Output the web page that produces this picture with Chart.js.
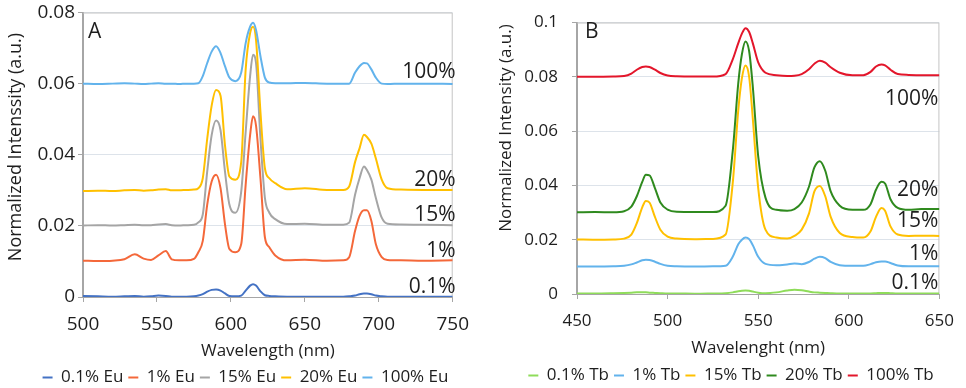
<!DOCTYPE html>
<html>
<head>
<meta charset="utf-8">
<script src="https://cdn.jsdelivr.net/npm/chart.js@4.4.1/dist/chart.umd.min.js"></script>
<style>
  html, body { margin: 0; padding: 0; background: #fff; overflow: hidden; }
  #wrap { display: flex; align-items: flex-start; width: 966px; height: 388px; overflow: hidden; }
  #boxEu { position: relative; width: 480px; height: 396px; flex: none; }
  #boxTb { position: relative; width: 486px; height: 394px; flex: none; }
</style>
</head>
<body>
<div id="wrap">
  <div id="boxEu"><canvas id="chartEu"></canvas></div>
  <div id="boxTb"><canvas id="chartTb"></canvas></div>
</div>
<script>
/* ==================== DATA : panel A (Eu) ==================== */
const euWavelength = [500, 510, 520, 528, 535, 541, 546, 551, 556, 560,
  565, 570, 575, 578, 581, 584, 587, 590, 593, 596,
  599, 603, 607, 610, 613, 615, 617, 620, 623, 626,
  630, 638, 650, 665, 676, 680, 684, 687, 690, 692,
  695, 698, 702, 706, 715, 730, 750];
const eu01 = [0.0003, 0.0002, 0.0001, 0.0002, 0.0003, 0.0001, 0.0002, 0.0004, 0.0003, 0.0001,
  0.0001, 0.0001, 0.0002, 0.0004, 0.0008, 0.0015, 0.002, 0.0021, 0.0018, 0.001,
  0.0003, 0.0002, 0.0004, 0.0018, 0.0032, 0.0036, 0.0032, 0.0016, 0.0005, 0.0003,
  0.0002, 0.0001, 0.0001, 0.0001, 0.0001, 0.0002, 0.0004, 0.0008, 0.001, 0.001,
  0.0008, 0.0004, 0.0002, 0.0001, 0.0001, 0.0001, 0.0001];
const eu1 = [0.0102, 0.0101, 0.0102, 0.0106, 0.012, 0.0108, 0.0104, 0.0117, 0.0129, 0.0106,
  0.0103, 0.0103, 0.0107, 0.0126, 0.0158, 0.026, 0.0325, 0.0344, 0.0306, 0.0205,
  0.0135, 0.0126, 0.0149, 0.0316, 0.0455, 0.0508, 0.0482, 0.0334, 0.0168, 0.014,
  0.0117, 0.0103, 0.0105, 0.0102, 0.0103, 0.0112, 0.0186, 0.0228, 0.0244, 0.0244,
  0.0214, 0.0149, 0.0112, 0.0104, 0.0103, 0.0102, 0.0103];
const eu15 = [0.0201, 0.0202, 0.0201, 0.0202, 0.0203, 0.0202, 0.0202, 0.0204, 0.0205, 0.0202,
  0.0201, 0.0202, 0.0203, 0.021, 0.0232, 0.0353, 0.0455, 0.0496, 0.0469, 0.0353,
  0.026, 0.0237, 0.0297, 0.0464, 0.0621, 0.0681, 0.0658, 0.0445, 0.0279, 0.0237,
  0.0219, 0.0205, 0.0206, 0.0203, 0.0203, 0.0209, 0.0288, 0.0334, 0.0367, 0.0357,
  0.033, 0.0279, 0.0223, 0.0206, 0.0204, 0.0203, 0.0202];
const eu20 = [0.0298, 0.0299, 0.0298, 0.03, 0.0301, 0.0299, 0.03, 0.0302, 0.0303, 0.03,
  0.03, 0.0301, 0.0302, 0.0306, 0.0334, 0.0445, 0.0538, 0.0582, 0.0566, 0.0427,
  0.0339, 0.033, 0.038, 0.064, 0.0742, 0.076, 0.0723, 0.052, 0.0362, 0.0334,
  0.032, 0.0303, 0.0306, 0.0301, 0.0301, 0.0311, 0.038, 0.0418, 0.0456, 0.045,
  0.0431, 0.039, 0.033, 0.0306, 0.0302, 0.0301, 0.0301];
const eu100 = [0.06, 0.0599, 0.06, 0.0601, 0.06, 0.0599, 0.06, 0.0601, 0.06, 0.06,
  0.0599, 0.06, 0.06, 0.0601, 0.0621, 0.0658, 0.069, 0.0705, 0.0686, 0.0649,
  0.0617, 0.0607, 0.0631, 0.0714, 0.076, 0.0771, 0.0751, 0.0677, 0.0617, 0.0603,
  0.0601, 0.0601, 0.0602, 0.06, 0.06, 0.06, 0.0631, 0.0649, 0.0658, 0.0657,
  0.064, 0.0617, 0.06, 0.0599, 0.06, 0.06, 0.0599];
const euSeriesNames = ["0.1% Eu", "1% Eu", "15% Eu", "20% Eu", "100% Eu"];
const euTicksX = [500, 550, 600, 650, 700, 750];
const euTicksY = [0, 0.02, 0.04, 0.06, 0.08];
const euTags = ["100%", "20%", "15%", "1%", "0.1%"];
const euTagValues = [0.0633, 0.0328, 0.0231, 0.0128, 0.0028];

/* ==================== DATA : panel B (Tb) ==================== */
const tbWavelength = [450, 460, 470, 476, 480, 483, 486, 488, 490, 493,
  496, 500, 505, 515, 525, 532, 536, 539, 541, 543,
  545, 547, 550, 554, 560, 566, 570, 574, 578, 581,
  584, 587, 590, 595, 602, 608, 612, 615, 618, 620,
  623, 627, 633, 640, 650];
const tb01 = [0.0002, 0.0002, 0.0003, 0.0004, 0.0005, 0.0006, 0.0006, 0.0006, 0.0005, 0.0004,
  0.0003, 0.0002, 0.0002, 0.0001, 0.0002, 0.0003, 0.0006, 0.001, 0.0012, 0.0013,
  0.0012, 0.0009, 0.0005, 0.0003, 0.0006, 0.0013, 0.0016, 0.0014, 0.0009, 0.0006,
  0.0005, 0.0004, 0.0003, 0.0002, 0.0002, 0.0002, 0.0002, 0.0003, 0.0004, 0.0004,
  0.0003, 0.0002, 0.0002, 0.0002, 0.0002];
const tb1 = [0.0101, 0.0101, 0.0102, 0.0104, 0.0109, 0.0116, 0.0124, 0.0126, 0.0125, 0.0119,
  0.0111, 0.0104, 0.0102, 0.0101, 0.0102, 0.0104, 0.0138, 0.0183, 0.02, 0.0208,
  0.0202, 0.018, 0.0137, 0.0111, 0.0106, 0.0109, 0.0112, 0.011, 0.0118, 0.013,
  0.0137, 0.0132, 0.0118, 0.0106, 0.0104, 0.0104, 0.011, 0.0117, 0.012, 0.012,
  0.0114, 0.0105, 0.0102, 0.0102, 0.0102];
const tb15 = [0.0201, 0.02, 0.0201, 0.0204, 0.0219, 0.0261, 0.0319, 0.0343, 0.0337, 0.0284,
  0.0237, 0.0211, 0.0204, 0.0202, 0.0203, 0.0219, 0.0413, 0.0677, 0.0795, 0.0842,
  0.08, 0.0648, 0.039, 0.0237, 0.0208, 0.0204, 0.0214, 0.0237, 0.0296, 0.0378,
  0.0398, 0.036, 0.0284, 0.0225, 0.021, 0.0208, 0.0231, 0.0284, 0.0317, 0.0307,
  0.0249, 0.0219, 0.0214, 0.0215, 0.0214];
const tb20 = [0.0301, 0.0302, 0.0301, 0.0305, 0.0322, 0.036, 0.0413, 0.0439, 0.0437, 0.039,
  0.0337, 0.0311, 0.0303, 0.0302, 0.0302, 0.0325, 0.0531, 0.0777, 0.0883, 0.093,
  0.0894, 0.0765, 0.0507, 0.0355, 0.031, 0.0307, 0.0313, 0.0337, 0.0395, 0.0466,
  0.0489, 0.0454, 0.0378, 0.0325, 0.031, 0.031, 0.0331, 0.0384, 0.0413, 0.0407,
  0.0349, 0.0317, 0.031, 0.0313, 0.0313];
const tb100 = [0.08, 0.08, 0.0801, 0.0803, 0.0812, 0.0826, 0.0836, 0.0838, 0.0836, 0.0826,
  0.0814, 0.0805, 0.0802, 0.0801, 0.0801, 0.081, 0.0865, 0.0924, 0.0959, 0.0979,
  0.0965, 0.0924, 0.0853, 0.0815, 0.0806, 0.0803, 0.0804, 0.081, 0.0828, 0.0848,
  0.0859, 0.0852, 0.0835, 0.0815, 0.0806, 0.0806, 0.0818, 0.0838, 0.0845, 0.0842,
  0.0826, 0.081, 0.0807, 0.0806, 0.0806];
const tbSeriesNames = ["0.1% Tb", "1% Tb", "15% Tb", "20% Tb", "100% Tb"];
const tbTicksX = [450, 500, 550, 600, 650];
const tbTicksY = [0, 0.02, 0.04, 0.06, 0.08, 0.1];
const tbTags = ["100%", "20%", "15%", "1%", "0.1%"];
const tbTagValues = [0.0718, 0.0384, 0.0268, 0.0148, 0.0042];

/* ==================== STYLE ==================== */
const euColors = ["#4472c4", "#f4683a", "#a5a5a5", "#ffc000", "#62b3ec"];
const tbColors = ["#8fdc5a", "#62b3ec", "#ffc000", "#2f8a1e", "#e3162b"];

Chart.defaults.font.family = "'Open Sans', sans-serif";
Chart.defaults.color = "#1e1e1e";

// frame, panel letter, curve tags and the y title
const decor = {
  id: "decor",
  afterLayout(chart, args, o) {
    // legend sits a bit right of centre in the original
    if (chart.legend) {
      chart.legend.left += o.legendShift;
      chart.legend.right += o.legendShift;
    }
  },
  beforeDatasetsDraw(chart, args, o) {
    const { ctx, chartArea: a } = chart;
    ctx.save();
    ctx.strokeStyle = "#c4c4c4";
    ctx.lineWidth = 1;
    ctx.beginPath();
    ctx.moveTo(a.left, a.top + 0.5);
    ctx.lineTo(a.right - 0.5, a.top + 0.5);
    ctx.lineTo(a.right - 0.5, a.bottom);
    ctx.stroke();
    ctx.restore();
  },
  afterDraw(chart, args, o) {
    const { ctx, chartArea: a, scales } = chart;
    ctx.save();
    ctx.fillStyle = "#1e1e1e";
    ctx.font = "21px 'Open Sans'";
    ctx.textAlign = "left";
    ctx.textBaseline = "alphabetic";
    ctx.fillText(o.letter, a.left + o.letterDx, 38);

    ctx.font = "21px 'Open Sans'";
    ctx.textAlign = "right";
    ctx.textBaseline = "middle";
    o.tags.forEach((t, i) => {
      ctx.fillText(t, a.right + o.tagDx, scales.y.getPixelForValue(o.tagValues[i]));
    });

    ctx.translate(o.titleX, o.titleY);
    ctx.rotate(-Math.PI / 2);
    ctx.font = o.titleSize + "px 'Open Sans'";
    ctx.textAlign = "center";
    ctx.textBaseline = "middle";
    ctx.fillText(o.title, 0, 0);
    ctx.restore();
  },
};

function makeChart(el, cfg) {
  const datasets = cfg.series.map((s, i) => ({
    label: cfg.names[i],
    data: cfg.wl.map((w, j) => ({ x: w, y: s[j] })),
    borderColor: cfg.colors[i],
    backgroundColor: cfg.colors[i],
    borderWidth: 2,
    pointRadius: 0,
    fill: false,
    cubicInterpolationMode: "monotone",
    order: -i,
  }));

  return new Chart(document.getElementById(el), {
    type: "line",
    data: { datasets },
    plugins: [decor],
    options: {
      responsive: true,
      maintainAspectRatio: false,
      animation: false,
      layout: { padding: { top: 10, right: cfg.padRight, left: 0, bottom: 0 } },
      plugins: {
        tooltip: { enabled: false },
        legend: {
          position: "bottom",
          labels: {
            usePointStyle: true,
            pointStyle: "line",
            pointStyleWidth: 10,
            boxHeight: 2,
            padding: 5,
            color: "#1e1e1e",
            font: { size: 17 },
            sort: (a, b) => a.datasetIndex - b.datasetIndex,
          },
        },
        decor: cfg.decor,
      },
      scales: {
        x: {
          type: "linear",
          min: cfg.ticksX[0],
          max: cfg.ticksX[cfg.ticksX.length - 1],
          afterBuildTicks: (s) => { s.ticks = cfg.ticksX.map((v) => ({ value: v })); },
          afterFit: (s) => { s.height = cfg.xHeight; },
          border: { color: "#a6a6a6", width: 1 },
          grid: { drawOnChartArea: false, tickLength: 5, color: "#a6a6a6" },
          ticks: { padding: cfg.xPad, font: { size: cfg.tickSize }, color: "#1e1e1e" },
          title: {
            display: true,
            text: cfg.xTitle,
            font: { size: 17 },
            padding: { top: 0, bottom: cfg.xTitlePad },
            color: "#1e1e1e",
          },
        },
        y: {
          min: 0,
          max: cfg.ticksY[cfg.ticksY.length - 1],
          afterBuildTicks: (s) => { s.ticks = cfg.ticksY.map((v) => ({ value: v })); },
          afterFit: (s) => { s.width = cfg.yWidth; },
          border: { color: "#a6a6a6", width: 2 },
          grid: { color: "#dde3ea", tickColor: "#a6a6a6", tickLength: 5, lineWidth: 1 },
          ticks: {
            padding: cfg.yPad,
            font: { size: cfg.tickSize, lineHeight: 1 },
            color: "#1e1e1e",
            callback: (v) => String(+Number(v).toFixed(2)),
          },
        },
      },
    },
  });
}

makeChart("chartEu", {
  wl: euWavelength,
  series: [eu01, eu1, eu15, eu20, eu100],
  names: euSeriesNames,
  colors: euColors,
  ticksX: euTicksX,
  ticksY: euTicksY,
  xTitle: "Wavelength (nm)",
  tickSize: 19,
  padRight: 23,
  xHeight: 67,
  xPad: 11,
  xTitlePad: 3,
  yWidth: 83,
  yPad: 3,
  decor: {
    letter: "A", letterDx: 5,
    tags: euTags, tagValues: euTagValues, tagDx: 3,
    title: "Normalized Intenssity (a.u.)", titleSize: 18, titleX: 16, titleY: 147,
    legendShift: 17,
  },
});

makeChart("chartTb", {
  wl: tbWavelength,
  series: [tb01, tb1, tb15, tb20, tb100],
  names: tbSeriesNames,
  colors: tbColors,
  ticksX: tbTicksX,
  ticksY: tbTicksY,
  xTitle: "Wavelenght (nm)",
  tickSize: 17,
  padRight: 18,
  xHeight: 68,
  xPad: 12,
  xTitlePad: 4,
  yWidth: 97,
  yPad: 14,
  decor: {
    letter: "B", letterDx: 8,
    tags: tbTags, tagValues: tbTagValues, tagDx: -1,
    title: "Normalized Intensity (a.u.)", titleSize: 17, titleX: 26, titleY: 128,
    legendShift: 17,
  },
});
</script>
</body>
</html>
